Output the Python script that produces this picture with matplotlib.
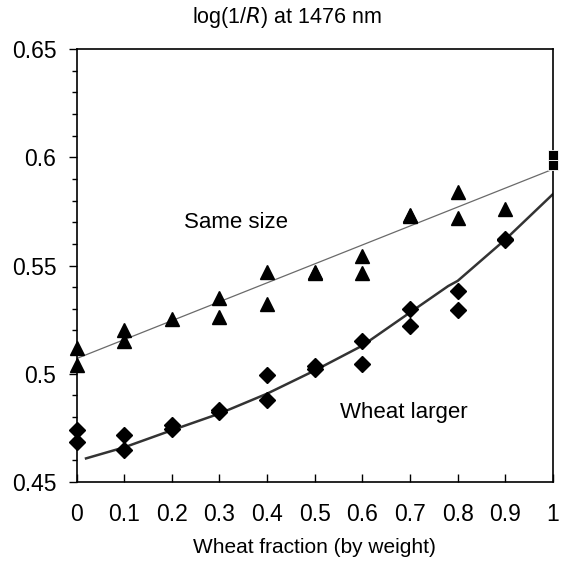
import matplotlib
matplotlib.use("Agg")
import matplotlib.pyplot as plt
import numpy as np

plt.rcParams['font.family'] = ['Liberation Sans', 'DejaVu Sans']

# Same size (triangles)
same_x = [0, 0, 0.1, 0.1, 0.2, 0.3, 0.3, 0.4, 0.4, 0.5, 0.5, 0.6, 0.6, 0.7, 0.7, 0.8, 0.8, 0.9]
same_y = [0.512, 0.504, 0.520, 0.515, 0.5255, 0.535, 0.526, 0.547, 0.532, 0.5465, 0.547, 0.5545, 0.5467, 0.5728, 0.5735, 0.5840, 0.5720, 0.5760]

# Wheat larger (diamonds)
larger_x = [0, 0, 0.1, 0.1, 0.2, 0.2, 0.3, 0.3, 0.4, 0.4, 0.5, 0.5, 0.6, 0.6, 0.7, 0.7, 0.8, 0.8, 0.9, 0.9]
larger_y = [0.4742, 0.4683, 0.4715, 0.4647, 0.4765, 0.4747, 0.4831, 0.4822, 0.4995, 0.4877, 0.5038, 0.5023, 0.5153, 0.5046, 0.5299, 0.5222, 0.5380, 0.5293, 0.5618, 0.5624]

# Pure wheat (squares)
pure_x = [1, 1]
pure_y = [0.6012, 0.5964]

# Fitted straight line (same size)
line_x = [0, 1]
line_y = [0.507, 0.5945]

# Model curve (wheat larger)
curve_x = [0.02, 0.1, 0.2, 0.3, 0.4, 0.5, 0.6, 0.7, 0.78, 0.8, 0.9, 1.0]
curve_y = [0.4609, 0.466, 0.4739, 0.4816, 0.4908, 0.5015, 0.513, 0.5283, 0.5405, 0.5429, 0.562, 0.583]

x_ticks = [0, 0.1, 0.2, 0.3, 0.4, 0.5, 0.6, 0.7, 0.8, 0.9, 1]
x_labels = ['0', '0.1', '0.2', '0.3', '0.4', '0.5', '0.6', '0.7', '0.8', '0.9', '1']
y_ticks = [0.45, 0.5, 0.55, 0.6, 0.65]
y_labels = ['0.45', '0.5', '0.55', '0.6', '0.65']

fig = plt.figure(figsize=(5.63, 5.61), dpi=100)
ax = fig.add_axes([76.5/563, 1-482/561, (553-76.5)/563, (482-49)/561])

ax.plot(line_x, line_y, color='#6a6a6a', lw=0.9, zorder=2)
ax.plot(curve_x, curve_y, color='#333333', lw=1.8, zorder=2)
ax.plot(same_x, same_y, linestyle='none', marker='^', markersize=10.5, color='black', zorder=3, clip_on=False)
ax.plot(larger_x, larger_y, linestyle='none', marker='D', markersize=7.8, color='black', zorder=3, clip_on=False)
ax.plot(pure_x, pure_y, linestyle='none', marker='s', markersize=7.2, markerfacecolor='black',
        markeredgecolor='white', markeredgewidth=0.6, zorder=4, clip_on=False)

ax.set_xlim(0, 1)
ax.set_ylim(0.45, 0.65)
ax.set_xticks(x_ticks)
ax.set_xticklabels(x_labels)
ax.set_yticks(y_ticks)
ax.set_yticklabels(y_labels)
ax.set_yticks(np.arange(0.45, 0.6501, 0.01), minor=True)
ax.tick_params(axis='x', direction='in', length=6, width=1, labelsize=16.5, pad=15)
ax.tick_params(axis='y', which='major', direction='out', length=5.5, width=1, labelsize=16.5, pad=9)
ax.tick_params(axis='y', which='minor', direction='out', length=3.8, width=1)
for s in ax.spines.values():
    s.set_linewidth(1.2)

ax.set_xlabel('Wheat fraction (by weight)', fontsize=15, labelpad=9)
fig.text(287/563, 1-17/561, r'log(1/$\it{R}$) at 1476 nm', ha='center', va='center', fontsize=15.5)

ax.text(0.335, 0.570, 'Same size', ha='center', va='center', fontsize=16)
ax.text(0.686, 0.4822, 'Wheat larger', ha='center', va='center', fontsize=16)

fig.savefig('out.png', dpi=100)
